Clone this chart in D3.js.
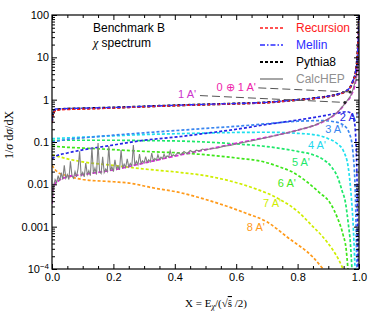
<!DOCTYPE html>
<meta charset="utf-8">

<script src="https://d3js.org/d3.v7.min.js"></script>

<style>
  body { margin: 0; background: #fff; }
  text { font-family: "Liberation Sans", Arial, sans-serif; }
  .serif { font-family: "Liberation Serif", "Times New Roman", serif; }
</style>

<div id="chart"></div>

<script>
  // ---- data: [X, 1/sigma dsigma/dX] ----
  const pythia8 = [[0,0.3],[0.004,0.5],[0.012,0.58],[0.03,0.6],[0.1,0.62],[0.2,0.65],[0.3,0.69],[0.42,0.74],[0.5,0.77],[0.6,0.81],[0.7,0.86],[0.75,0.92],[0.8,0.99],[0.85,1.07],[0.9,1.2],[0.93,1.33],[0.95,1.5],[0.97,1.9],[0.98,2.7],[0.99,5],[0.995,12],[0.999,60],[1,150]];
  const recursion = [[0,0.28],[0.004,0.46],[0.012,0.55],[0.03,0.58],[0.1,0.6],[0.2,0.635],[0.3,0.68],[0.42,0.73],[0.5,0.76],[0.6,0.8],[0.7,0.85],[0.75,0.91],[0.8,0.98],[0.85,1.06],[0.9,1.19],[0.93,1.32],[0.95,1.48],[0.97,1.88],[0.98,2.65],[0.99,4.9],[0.995,12],[0.999,60],[1,150]];
  const mellin = [[0,0.31],[0.004,0.52],[0.012,0.6],[0.03,0.61],[0.1,0.63],[0.2,0.655],[0.3,0.695],[0.42,0.745],[0.5,0.775],[0.6,0.815],[0.7,0.865],[0.75,0.925],[0.8,0.995],[0.85,1.08],[0.9,1.21],[0.93,1.34],[0.95,1.52],[0.97,1.92],[0.98,2.75],[0.99,5.1],[0.995,12],[0.999,60],[1,150]];

  const a1 = [[0,0.0035],[0.005,0.009],[0.02,0.012],[0.05,0.015],[0.1,0.017],[0.2,0.022],[0.3,0.032],[0.42,0.05],[0.55,0.078],[0.65,0.11],[0.75,0.155],[0.8,0.19],[0.85,0.24],[0.9,0.35],[0.93,0.5],[0.955,0.82],[0.975,1.3],[0.99,3],[0.997,10],[1,60]];
  const a2 = [[0,0.04],[0.01,0.045],[0.05,0.055],[0.1,0.065],[0.2,0.085],[0.3,0.11],[0.42,0.135],[0.5,0.16],[0.6,0.2],[0.7,0.26],[0.8,0.33],[0.88,0.41],[0.93,0.48],[0.96,0.52],[0.975,0.47],[0.985,0.3],[0.99,0.1],[0.994,0.008],[0.997,0.0001]];
  const a3 = [[0,0.1],[0.05,0.115],[0.1,0.125],[0.2,0.145],[0.3,0.165],[0.42,0.19],[0.5,0.21],[0.6,0.235],[0.7,0.27],[0.8,0.31],[0.88,0.32],[0.92,0.3],[0.95,0.25],[0.97,0.15],[0.98,0.06],[0.988,0.006],[0.993,0.0001]];
  const a4 = [[0,0.12],[0.05,0.125],[0.1,0.13],[0.2,0.14],[0.3,0.15],[0.42,0.158],[0.5,0.163],[0.6,0.168],[0.7,0.17],[0.8,0.16],[0.85,0.15],[0.9,0.12],[0.93,0.09],[0.95,0.06],[0.965,0.025],[0.975,0.005],[0.982,0.0008],[0.987,0.0001]];
  const a5 = [[0,0.11],[0.1,0.11],[0.2,0.11],[0.3,0.108],[0.42,0.105],[0.5,0.1],[0.6,0.09],[0.7,0.078],[0.8,0.06],[0.85,0.05],[0.88,0.04],[0.91,0.026],[0.93,0.015],[0.945,0.007],[0.955,0.004],[0.965,0.0012],[0.972,0.0004],[0.977,0.0001]];
  const a6 = [[0,0.08],[0.05,0.075],[0.1,0.072],[0.2,0.066],[0.3,0.06],[0.42,0.055],[0.5,0.05],[0.6,0.042],[0.69,0.034],[0.74,0.026],[0.78,0.02],[0.83,0.0115],[0.87,0.0065],[0.906,0.0036],[0.93,0.0016],[0.948,0.00065],[0.958,0.0003],[0.964,0.0001]];
  const a7 = [[0,0.05],[0.05,0.04],[0.1,0.034],[0.2,0.028],[0.3,0.023],[0.42,0.019],[0.5,0.016],[0.58,0.012],[0.66,0.008],[0.74,0.0045],[0.8,0.0023],[0.85,0.001],[0.88,0.0006],[0.915,0.00028],[0.935,0.00016],[0.948,0.0001]];
  const a8 = [[0,0.028],[0.02,0.019],[0.05,0.016],[0.1,0.013],[0.2,0.0115],[0.26,0.0105],[0.32,0.0085],[0.42,0.0063],[0.5,0.0044],[0.63,0.0021],[0.7,0.0013],[0.77,0.00054],[0.85,0.00019],[0.883,0.0001]];

  const calchep = [[0,0.004],[0.005,0.009],[0.01,0.013],[0.015,0.011],[0.02,0.016],[0.025,0.012],[0.03,0.019],[0.035,0.013],[0.04,0.028],[0.045,0.014],[0.05,0.017],[0.055,0.013],[0.06,0.035],[0.065,0.016],[0.07,0.014],[0.075,0.02],[0.08,0.015],[0.085,0.024],[0.09,0.06],[0.095,0.016],
    [0.1,0.019],[0.105,0.015],[0.11,0.032],[0.115,0.017],[0.12,0.021],[0.125,0.016],[0.13,0.075],[0.135,0.018],[0.14,0.024],[0.145,0.017],[0.15,0.095],[0.155,0.02],[0.16,0.018],[0.165,0.045],[0.17,0.019],[0.175,0.023],[0.18,0.02],[0.185,0.08],[0.19,0.021],[0.195,0.026],
    [0.2,0.02],[0.205,0.038],[0.21,0.023],[0.215,0.027],[0.22,0.022],[0.225,0.065],[0.23,0.024],[0.235,0.03],[0.24,0.025],[0.245,0.04],[0.25,0.026],[0.255,0.031],[0.26,0.027],[0.265,0.085],[0.27,0.028],[0.275,0.035],[0.28,0.029],[0.285,0.052],[0.29,0.031],[0.295,0.036],
    [0.3,0.032],[0.305,0.045],[0.31,0.033],[0.315,0.038],[0.32,0.034],[0.325,0.055],[0.33,0.036],[0.335,0.041],[0.34,0.037],[0.345,0.05],[0.35,0.039],[0.355,0.044],[0.36,0.04],[0.365,0.052],[0.37,0.042],[0.375,0.047],[0.38,0.044],[0.385,0.062],[0.39,0.046],[0.395,0.05],
    [0.4,0.047],[0.41,0.056],[0.42,0.05],[0.43,0.06],[0.44,0.053],[0.45,0.063],[0.46,0.057],[0.47,0.064],[0.48,0.061],[0.49,0.068],[0.5,0.065],[0.52,0.07],[0.54,0.072],[0.56,0.08],[0.58,0.083],[0.6,0.09],[0.63,0.1],[0.66,0.11],[0.7,0.128],[0.75,0.155],
    [0.8,0.19],[0.85,0.24],[0.9,0.35],[0.93,0.5],[0.955,0.82],[0.975,1.3],[0.99,3],[0.997,10],[1,60]];

  // leader lines from the labels to the curves
  const leader1 = [[0.482,1.25],[0.954,0.86]];
  const leader01 = [[0.672,1.9],[0.971,1.52]];

  const xTicks = [0, 0.2, 0.4, 0.6, 0.8, 1.0];
  const xMinorTicks = [0.05,0.1,0.15,0.25,0.3,0.35,0.45,0.5,0.55,0.65,0.7,0.75,0.85,0.9,0.95];
  const yTicks = [1e-4, 1e-3, 0.01, 0.1, 1, 10, 100];
  const yTickLabels = ["10-4", "0.001", "0.01", "0.1", "1", "10", "100"];

  const seriesNames = ["Recursion", "Mellin", "Pythia8", "CalcHEP"];
  const curveLabels = ["1 A'", "0 \u2295 1 A'", "2 A'", "3 A'", "4 A'", "5 A'", "6 A'", "7 A'", "8 A'"];

  // ---- layout ----
  const margin = {top: 15, right: 15, bottom: 46, left: 52},
      width = 374 - margin.left - margin.right,
      height = 315 - margin.top - margin.bottom;

  const svg = d3.select("#chart")
    .append("svg")
      .attr("width", width + margin.left + margin.right)
      .attr("height", height + margin.top + margin.bottom)
    .append("g")
      .attr("transform", `translate(${margin.left}, ${margin.top})`);

  const x = d3.scaleLinear().domain([0, 1]).range([0, width]);
  const y = d3.scaleLog().domain([1e-4, 100]).range([height, 0]);

  svg.append("clipPath").attr("id", "clip")
    .append("rect").attr("width", width).attr("height", height);

  const line = d3.line()
    .x(d => x(d[0]))
    .y(d => y(d[1]))
    .curve(d3.curveMonotoneX);

  const plot = svg.append("g").attr("clip-path", "url(#clip)");

  function draw(data, color, w, dash, gen) {
    plot.append("path")
      .datum(data)
      .attr("d", gen || line)
      .attr("fill", "none")
      .attr("stroke", color)
      .attr("stroke-width", w)
      .attr("stroke-dasharray", dash);
  }

  // n A' contributions
  const nColors = ["#ff9a1a", "#cfee00", "#3fe61a", "#1ee86a", "#1fe0ee", "#3a86f0", "#2424e6"];
  [a8, a7, a6, a5, a4, a3, a2].forEach((d, i) => draw(d, nColors[i], 1.7, "3,2"));
  draw(a1, "#dd22dd", 1.8, "4,2");
  draw(calchep, "#808080", 1.1, null, d3.line().x(d => x(d[0])).y(d => y(d[1])));
  draw(pythia8, "#000", 2.2, "3,2");
  draw(recursion, "#ff1a1a", 1.6, "3,2");
  draw(mellin, "#2b2bff", 1.4, "5,2,1.5,2");

  // leader lines
  [leader1, leader01].forEach(d => {
    svg.append("path")
      .datum(d)
      .attr("d", d3.line().x(p => x(p[0])).y(p => y(p[1])))
      .attr("stroke", "#555")
      .attr("stroke-width", 1)
      .attr("stroke-dasharray", "8,4")
      .attr("fill", "none");
    svg.append("circle")
      .attr("cx", x(d[1][0])).attr("cy", y(d[1][1])).attr("r", 1.5)
      .attr("fill", "#222");
  });

  // curve labels
  const labelPos = [[0.44,1.36],[0.6,2.0],[0.967,0.39],[0.919,0.203],[0.863,0.085],[0.811,0.0337],[0.765,0.0107],[0.717,0.0036],[0.664,0.00098]];
  const labelColors = ["#cc33cc", "#ee22aa", "#2424e6", "#3a86f0", "#1fd8ee", "#1ee86a", "#3fe61a", "#cfee00", "#ff9a1a"];
  curveLabels.forEach((t, i) => {
    svg.append("text")
      .attr("x", x(labelPos[i][0]))
      .attr("y", y(labelPos[i][1]))
      .attr("text-anchor", "middle")
      .attr("dy", "0.35em")
      .style("font-size", "11px")
      .attr("fill", labelColors[i])
      .text(t);
  });

  // ---- axes, ticks pointing inwards on all four sides ----
  svg.append("g")
    .attr("transform", `translate(0, ${height})`)
    .call(d3.axisBottom(x).tickValues(xTicks).tickSizeInner(-5).tickSizeOuter(0).tickPadding(4).tickFormat(d3.format(".1f")))
    .call(g => g.select(".domain").remove())
    .call(g => g.selectAll("text").style("font-size", "11px").attr("fill", "#000"));
  svg.append("g")
    .attr("transform", `translate(0, ${height})`)
    .call(d3.axisBottom(x).tickValues(xMinorTicks).tickSizeInner(-3).tickSizeOuter(0).tickFormat(""))
    .call(g => g.select(".domain").remove());
  svg.append("g")
    .call(d3.axisTop(x).tickValues(xTicks).tickSizeInner(-5).tickSizeOuter(0).tickFormat(""))
    .call(g => g.select(".domain").remove());
  svg.append("g")
    .call(d3.axisTop(x).tickValues(xMinorTicks).tickSizeInner(-3).tickSizeOuter(0).tickFormat(""))
    .call(g => g.select(".domain").remove());

  const yMinor = [];
  yTicks.slice(0, -1).forEach(t => { for (let k = 2; k < 10; k++) yMinor.push(t * k); });

  const yAxis = svg.append("g")
    .call(d3.axisLeft(y).tickValues(yTicks).tickSizeInner(-5).tickSizeOuter(0).tickPadding(3)
      .tickFormat((d, i) => yTickLabels[i]))
    .call(g => g.select(".domain").remove())
    .call(g => g.selectAll("text").style("font-size", "11px").attr("fill", "#000"));
  // superscript for 10^-4
  yAxis.selectAll("text").filter((d, i) => i === 0)
    .text("10")
    .append("tspan").attr("dy", "-0.45em").style("font-size", "8px").text("\u22124");

  svg.append("g")
    .call(d3.axisLeft(y).tickValues(yMinor).tickSizeInner(-3).tickSizeOuter(0).tickFormat(""))
    .call(g => g.select(".domain").remove());
  svg.append("g")
    .attr("transform", `translate(${width}, 0)`)
    .call(d3.axisRight(y).tickValues(yTicks).tickSizeInner(-5).tickSizeOuter(0).tickFormat(""))
    .call(g => g.select(".domain").remove());
  svg.append("g")
    .attr("transform", `translate(${width}, 0)`)
    .call(d3.axisRight(y).tickValues(yMinor).tickSizeInner(-3).tickSizeOuter(0).tickFormat(""))
    .call(g => g.select(".domain").remove());

  // frame
  svg.append("rect")
    .attr("width", width).attr("height", height)
    .attr("fill", "none").attr("stroke", "#000").attr("stroke-width", 1.2);

  // axis labels
  const xl = svg.append("text")
    .attr("class", "serif")
    .attr("x", 164)
    .attr("y", height + 38)
    .attr("text-anchor", "middle")
    .style("font-size", "11px");
  xl.append("tspan").text("X = E");
  xl.append("tspan").attr("dy", "2").style("font-size", "8px").style("font-style", "italic").text("\u03c7");
  xl.append("tspan").attr("dy", "-2").text("/(\u221a");
  xl.append("tspan").style("text-decoration", "overline").text("\u015d");
  xl.append("tspan").text(" /2)");

  const yl = svg.append("text")
    .attr("class", "serif")
    .attr("transform", "rotate(-90)")
    .attr("x", -120)
    .attr("y", -39)
    .attr("text-anchor", "middle")
    .style("font-size", "12px");
  yl.append("tspan").text("1/");
  yl.append("tspan").style("font-style", "italic").text("\u03c3");
  yl.append("tspan").text(" d");
  yl.append("tspan").style("font-style", "italic").text("\u03c3");
  yl.append("tspan").text("/dX");

  // title text
  svg.append("text").attr("x", 41).attr("y", 13).attr("dy", "0.35em")
    .style("font-size", "12px").text("Benchmark B");
  const sub = svg.append("text").attr("x", 41).attr("y", 28).attr("dy", "0.35em")
    .style("font-size", "12px");
  sub.append("tspan").attr("class", "serif").style("font-style", "italic").text("\u03c7");
  sub.append("tspan").text(" spectrum");

  // legend
  const legColors = ["#ff1a1a", "#2b2bff", "#000", "#808080"];
  const legText = ["#ff1a1a", "#2b2bff", "#000", "#909090"];
  const legWidth = [1.6, 1.4, 2.2, 1.4];
  const legDash = ["3,2", "5,2,1.5,2", "3,2", null];
  seriesNames.forEach((name, i) => {
    const yy = 13 + i * 17;
    svg.append("line")
      .attr("x1", 208).attr("x2", 231).attr("y1", yy).attr("y2", yy)
      .attr("stroke", legColors[i]).attr("stroke-width", legWidth[i])
      .attr("stroke-dasharray", legDash[i]);
    svg.append("text")
      .attr("x", 244).attr("y", yy).attr("dy", "0.35em")
      .style("font-size", "12px").attr("fill", legText[i])
      .text(name);
  });
</script>
